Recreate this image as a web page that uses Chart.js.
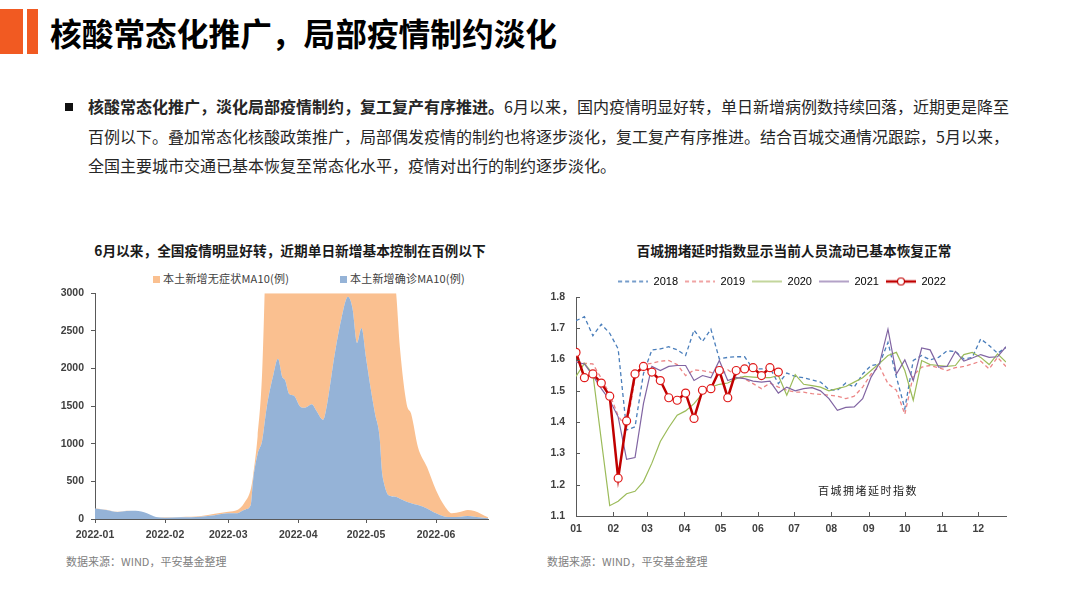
<!DOCTYPE html>
<html>
<head>
<meta charset="utf-8">
<script src="https://cdn.jsdelivr.net/npm/chart.js@4.4.1/dist/chart.umd.min.js"></script>
<style>
body{margin:0;background:#fff;font-family:"Noto Sans CJK SC","Noto Sans",sans-serif;}
#page{position:relative;width:1080px;height:597px;overflow:hidden;background:#fff;}
.bar{position:absolute;top:9px;height:45px;background:#F15A22;}
.h1{position:absolute;left:50px;top:10px;font-size:31.7px;font-weight:bold;color:#000;line-height:44px;white-space:nowrap;}
.bullet{position:absolute;left:65px;top:103px;width:8px;height:8px;background:#111;}
.para{position:absolute;left:88px;top:92px;font-size:16px;line-height:29.5px;color:#262626;white-space:nowrap;}
.ct{position:absolute;top:240px;font-size:13.7px;font-weight:bold;color:#1a1a1a;line-height:20px;white-space:nowrap;transform:translateX(-50%);}
.lg{position:absolute;top:270px;font-size:11px;line-height:16px;color:#404040;white-space:nowrap;letter-spacing:0.2px;}
.lg i{display:inline-block;width:7px;height:7px;margin-right:3px;vertical-align:0px;}
.src{position:absolute;top:553px;font-size:11px;line-height:16px;color:#808080;white-space:nowrap;}
.note{position:absolute;left:818px;top:482px;font-size:11px;line-height:16px;color:#222;letter-spacing:1.5px;white-space:nowrap;}
.cv{position:absolute;}
</style>
</head>
<body>
<div id="page">
  <div class="bar" style="left:0;width:23px"></div>
  <div class="bar" style="left:27px;width:11px"></div>
  <div class="h1">核酸常态化推广，局部疫情制约淡化</div>

  <div class="bullet"></div>
  <div class="para"><b>核酸常态化推广，淡化局部疫情制约，复工复产有序推进。</b>6月以来，国内疫情明显好转，单日新增病例数持续回落，近期更是降至<br>百例以下。叠加常态化核酸政策推广，局部偶发疫情的制约也将逐步淡化，复工复产有序推进。结合百城交通情况跟踪，5月以来，<br>全国主要城市交通已基本恢复至常态化水平，疫情对出行的制约逐步淡化。</div>

  <div class="ct" style="left:290px">6月以来，全国疫情明显好转，近期单日新增基本控制在百例以下</div>
  <div class="ct" style="left:794px">百城拥堵延时指数显示当前人员流动已基本恢复正常</div>

  <div class="lg" style="left:153px"><i style="background:#FAC090"></i>本土新增无症状MA10(例)</div>
  <div class="lg" style="left:340px"><i style="background:#95B3D7"></i>本土新增确诊MA10(例)</div>

  <canvas id="epi" class="cv" width="460" height="270" style="left:40px;top:280px"></canvas>
  <canvas id="tti" class="cv" width="480" height="281" style="left:540px;top:269px"></canvas>

  <div class="note">百城拥堵延时指数</div>
  <div class="src" style="left:66px">数据来源：WIND，平安基金整理</div>
  <div class="src" style="left:547px">数据来源：WIND，平安基金整理</div>
</div>

<script>
// ---- left chart: local new cases, 10-day MA (x = day of 2022, 0 = Jan 1)
const dayIdx = [0,5,10,14,18,23,27,31,38,47,53,59,63,66,69,70,72,74,76,79,81,83,84,86,88,91,93,96,98,101,
  103,106,109,112,114,116,118,120,122,124,126,127,128,130,133,135,138,140,143,147,151,155,158,162,165,168,174];
const confirmed = [140,120,92,105,108,75,25,18,22,30,50,75,78,120,185,515,865,1040,1480,1920,
  2130,1880,1855,1660,1640,1490,1480,1525,1440,1320,1570,2165,2650,2955,2800,2340,2540,2140,1745,1395,
  1085,645,470,315,295,270,230,210,185,140,75,30,25,30,40,30,9];
const asymptomatic = [3,3,3,3,3,3,3,4,5,10,20,22,41,90,215,60,235,910,2500,5000,
  7000,9000,10000,12000,14000,17000,19000,21000,22000,23000,21000,19000,16000,13000,11000,9000,7000,5500,4500,3500,
  3500,3300,3200,3000,2800,2005,1295,1185,770,550,308,133,50,65,79,76,13];
const monthStartDay = [0,31,59,90,120,151];
const monthLabels = ['2022-01','2022-02','2022-03','2022-04','2022-05','2022-06'];

// ---- right chart: weekly congestion delay index, by year (x = week of year)
const idx2018 = [1.724,1.737,1.676,1.713,1.684,1.634,1.375,1.385,1.555,1.631,
  1.634,1.641,1.631,1.613,1.694,1.658,1.697,1.602,1.607,1.609,
  1.609,1.570,1.570,1.574,1.523,1.557,1.546,1.542,1.535,1.528,
  1.504,1.502,1.525,1.512,1.554,1.581,1.586,1.655,1.544,1.443,
  1.597,1.613,1.599,1.607,1.628,1.626,1.602,1.607,1.666,1.645,1.620,1.639];
const idx2019 = [1.592,1.588,1.586,1.540,1.490,1.420,1.380,1.539,1.584,1.588,
  1.595,1.597,1.584,1.549,1.567,1.565,1.559,1.549,1.567,1.549,
  1.539,1.523,1.507,1.525,1.512,1.502,1.496,1.496,1.491,1.489,
  1.486,1.483,1.475,1.483,1.512,1.554,1.578,1.523,1.502,1.425,
  1.549,1.576,1.581,1.574,1.565,1.574,1.578,1.586,1.595,1.570,1.607,1.578];
const idx2020 = [1.546,1.588,1.554,1.343,1.133,1.147,1.171,1.179,1.210,1.269,
  1.338,1.383,1.422,1.436,1.459,1.491,1.512,1.521,1.525,1.539,
  1.546,1.544,1.542,1.542,1.549,1.486,1.552,1.521,1.517,1.512,
  1.500,1.507,1.514,1.528,1.542,1.565,1.588,1.613,1.623,1.565,
  1.470,1.597,1.584,1.581,1.578,1.581,1.616,1.623,1.607,1.584,1.618,1.592];
const idx2021 = [1.592,1.586,1.549,1.507,1.470,1.417,1.281,1.287,1.459,1.578,
  1.565,1.578,1.581,1.581,1.533,1.549,1.542,1.597,1.533,1.542,
  1.539,1.531,1.528,1.531,1.493,1.512,1.500,1.507,1.510,1.500,
  1.475,1.438,1.447,1.449,1.475,1.544,1.588,1.697,1.554,1.599,
  1.533,1.637,1.631,1.576,1.578,1.626,1.595,1.605,1.616,1.607,1.609,1.641];
const idx2022 = [1.623,1.542,1.554,1.525,1.483,1.221,1.404,1.554,1.578,1.560,
  1.533,1.478,1.470,1.493,1.412,1.502,1.507,1.565,1.478,1.565,
  1.570,1.574,1.549,1.574,1.560];
const yearNames = ['2018','2019','2020','2021','2022'];
const yearMonthDay = [0,31,59,90,120,151,181,212,243,273,304,334];
const yearMonthLabels = ['01','02','03','04','05','06','07','08','09','10','11','12'];

const AXIS = '#595959';
const tickFont = {family:'"Liberation Sans", Arial, sans-serif', size:10.5, weight:'bold'};

// left: stacked area (confirmed at the bottom, asymptomatic on top, clipped at 3000)
new Chart(document.getElementById('epi'), {
  type:'line',
  data:{datasets:[
    {label:'本土新增确诊MA10(例)', data:dayIdx.map((d,i)=>({x:d,y:confirmed[i]})),
     backgroundColor:'#95B3D7', borderWidth:0, pointRadius:0, fill:'origin', cubicInterpolationMode:'monotone'},
    {label:'本土新增无症状MA10(例)', data:dayIdx.map((d,i)=>({x:d,y:asymptomatic[i]})),
     backgroundColor:'#FAC090', borderWidth:0, pointRadius:0, fill:'-1', cubicInterpolationMode:'monotone'}
  ]},
  options:{
    responsive:false, animation:false,
    layout:{padding:{top:12,right:12,left:0,bottom:0}},
    plugins:{legend:{display:false}, tooltip:{enabled:false}},
    scales:{
      x:{type:'linear', min:0, max:dayIdx[dayIdx.length-1],
        afterBuildTicks:s=>{s.ticks=monthStartDay.map(v=>({value:v}));},
        afterFit:s=>{s.height=31;},
        ticks:{autoSkip:false, maxRotation:0, padding:6, color:'#404040', font:tickFont,
          callback:(v,i)=>monthLabels[i]},
        grid:{drawOnChartArea:false, tickLength:4, color:AXIS},
        border:{color:AXIS}},
      y:{stacked:true, min:0, max:3000,
        afterFit:s=>{s.width=55;},
        ticks:{stepSize:500, padding:7, color:'#404040', font:tickFont, callback:v=>String(v)},
        grid:{drawOnChartArea:false, tickLength:4, color:AXIS},
        border:{color:AXIS}}
    }
  }
});

// right: tick marks pointing into the plot area
const innerTicks = {
  id:'innerTicks',
  afterDraw(c){
    const {ctx, chartArea:a, scales:{x,y}} = c;
    ctx.save(); ctx.strokeStyle=AXIS; ctx.lineWidth=1; ctx.beginPath();
    x.ticks.forEach(t=>{const px=Math.round(x.getPixelForValue(t.value))+0.5; ctx.moveTo(px,a.bottom); ctx.lineTo(px,a.bottom-4);});
    y.ticks.forEach(t=>{const py=Math.round(y.getPixelForValue(t.value))+0.5; ctx.moveTo(a.left,py); ctx.lineTo(a.left+4,py);});
    ctx.stroke(); ctx.restore();
  }
};
// legend sits centred over the plot area rather than over the whole canvas
const legendShift = {
  id:'legendShift',
  afterLayout(c){
    const lg=c.legend; if(!lg) return;
    const dx=(c.chartArea.left+c.chartArea.right)/2-(lg.left+lg.right)/2-9;
    lg.left+=dx; lg.right+=dx;
  }
};

function legendIcon(color, width, dash, marker){
  const cv=document.createElement('canvas'); cv.width=30; cv.height=10;
  const g=cv.getContext('2d');
  g.strokeStyle=color; g.lineWidth=width; g.setLineDash(dash);
  g.beginPath(); g.moveTo(0,5); g.lineTo(30,5); g.stroke();
  if(marker){
    g.setLineDash([]); g.lineWidth=1.2; g.fillStyle='#fff';
    g.beginPath(); g.arc(15,5,3.5,0,Math.PI*2); g.fill(); g.stroke();
  }
  return cv;
}

const lineStyles = [
  {color:'#4A7EBB', width:1.3, dash:[4,3]},
  {color:'#EC8686', width:1.3, dash:[4,3]},
  {color:'#9BBB59', width:1.2, dash:[]},
  {color:'#8064A2', width:1.2, dash:[]},
  {color:'#C00000', width:2.5, dash:[]}
];
const yearSeries = [idx2018, idx2019, idx2020, idx2021, idx2022];

new Chart(document.getElementById('tti'), {
  type:'line',
  data:{datasets:yearSeries.map((vals,k)=>({
    label:yearNames[k],
    data:vals.map((v,i)=>({x:i,y:v})),
    borderColor:lineStyles[k].color, borderWidth:lineStyles[k].width, borderDash:lineStyles[k].dash,
    fill:false, tension:0, order:k===4?0:5-k,
    pointRadius:k===4?4:0, pointBackgroundColor:'#fff', pointBorderColor:'#E01B1B', pointBorderWidth:1.2
  }))},
  options:{
    responsive:false, animation:false,
    layout:{padding:{top:0,right:14,left:0,bottom:0}},
    plugins:{
      tooltip:{enabled:false},
      legend:{labels:{
        usePointStyle:true, pointStyleWidth:30, padding:7, color:'#333',
        font:{family:'"Liberation Sans", Arial, sans-serif', size:11},
        generateLabels:c=>c.data.datasets.map((d,i)=>({
          text:d.label, datasetIndex:i, hidden:false, lineWidth:0,
          fillStyle:'transparent', strokeStyle:'transparent',
          pointStyle:legendIcon(lineStyles[i].color, lineStyles[i].width, lineStyles[i].dash, i===4)
        }))
      }}
    },
    scales:{
      x:{type:'linear', min:0, max:51,
        afterBuildTicks:s=>{s.ticks=yearMonthDay.map(d=>({value:d/7}));},
        afterFit:s=>{s.height=34;},
        ticks:{autoSkip:false, maxRotation:0, padding:7, color:'#404040', font:tickFont,
          callback:(v,i)=>yearMonthLabels[i]},
        grid:{display:true, drawOnChartArea:false, drawTicks:false, color:AXIS},
        border:{color:AXIS}},
      y:{min:1.1, max:1.8,
        afterFit:s=>{s.width=36;},
        ticks:{stepSize:0.1, padding:11, color:'#404040', font:tickFont, callback:v=>v.toFixed(1)},
        grid:{display:true, drawOnChartArea:false, drawTicks:false, color:AXIS},
        border:{color:AXIS}}
    }
  },
  plugins:[innerTicks, legendShift]
});
</script>
</body>
</html>
